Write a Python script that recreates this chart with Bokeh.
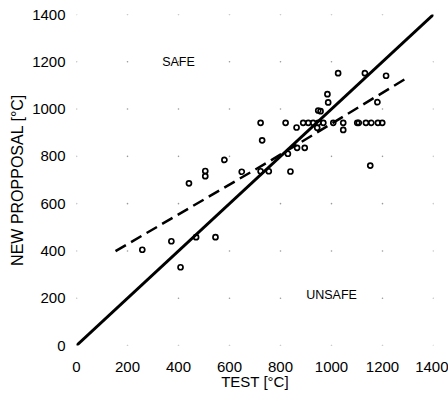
from bokeh.plotting import figure
from bokeh.models import Range1d, FixedTicker, ColumnDataSource, Label
from bokeh.embed import file_html
from bokeh.resources import INLINE

# data
test_x = [1026, 1131, 1214, 984, 987, 1180, 948, 957,
          722, 820, 889, 909, 928, 948, 968, 1007, 1046, 1101, 1107, 1135, 1156, 1182, 1199,
          863, 944, 1046, 728, 829, 865, 895, 722, 754, 839, 1152,
          580, 505, 505, 441, 648, 372, 469, 545, 258, 408]
proposal_y = [1152, 1152, 1141, 1063, 1028, 1029, 994, 991,
              942, 942, 942, 942, 942, 942, 942, 942, 942, 942, 942, 942, 942, 942, 942,
              922, 921, 912, 868, 811, 836, 836, 737, 737, 736, 761,
              785, 738, 716, 686, 735, 441, 458, 458, 405, 331]
equal_x = [0, 1400]
equal_y = [0, 1400]
fit_x = [153, 761, 1301]
fit_y = [399, 782, 1135]
ticks = [0, 200, 400, 600, 800, 1000, 1200, 1400]

FONT = "Liberation Sans"

p = figure(width=448, height=404, output_backend="svg", toolbar_location=None,
           x_range=Range1d(0, 1400), y_range=Range1d(0, 1400),
           min_border_left=76, min_border_right=15, min_border_top=14, min_border_bottom=59)
p.outline_line_color = None
p.xgrid.visible = False
p.ygrid.visible = False

# dotted grid: tiny dots at tick intersections
gx = [x for x in ticks for y in ticks]
gy = [y for x in ticks for y in ticks]
p.scatter(gx, gy, size=1.6, color="#9a9a9a", line_color=None)

p.line(equal_x, equal_y, line_color="black", line_width=3)
p.line(fit_x, fit_y, line_color="black", line_width=2.5, line_dash="12 6")

src = ColumnDataSource(dict(x=test_x, y=proposal_y))
p.scatter("x", "y", source=src, marker="circle", size=5, fill_color=None,
          line_color="black", line_width=1.7)

for ax in (p.xaxis[0], p.yaxis[0]):
    ax.ticker = FixedTicker(ticks=ticks)
    ax.axis_line_color = None
    ax.major_tick_line_color = None
    ax.minor_tick_line_color = None
    ax.major_tick_in = 0
    ax.major_tick_out = 0
    ax.minor_tick_in = 0
    ax.minor_tick_out = 0
    ax.major_label_text_font = FONT
    ax.major_label_text_font_size = "15px"
    ax.major_label_text_color = "black"
    ax.axis_label_text_font = FONT
    ax.axis_label_text_font_style = "normal"
    ax.axis_label_text_color = "black"

p.xaxis.axis_label = "TEST [°C]"
p.xaxis.axis_label_text_font_size = "15px"
p.xaxis.major_label_standoff = 16
p.xaxis.axis_label_standoff = -2
p.yaxis.axis_label = "NEW PROPPOSAL [°C]"
p.yaxis.axis_label_text_font_size = "16px"
p.yaxis.major_label_standoff = 11
p.yaxis.axis_label_standoff = 3

p.add_layout(Label(x=400, y=1200, text="SAFE", text_font=FONT, text_font_size="12.5px",
                   text_align="center", text_baseline="middle", text_color="black"))
p.add_layout(Label(x=1000, y=212, text="UNSAFE", text_font=FONT, text_font_size="12.5px",
                   text_align="center", text_baseline="middle", text_color="black"))

open("out.html", "w").write(file_html(p, INLINE))
